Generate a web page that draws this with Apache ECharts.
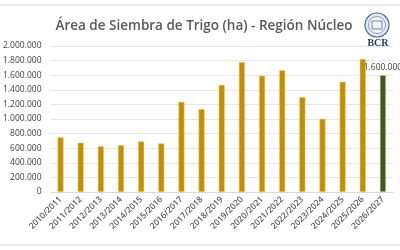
<!DOCTYPE html>
<html>
<head>
<meta charset="utf-8">
<script src="https://cdn.jsdelivr.net/npm/echarts@6/dist/echarts.min.js"></script>
<style>
  html, body { margin: 0; padding: 0; background: #fff; }
  #main { width: 400px; height: 250px; }
</style>
</head>
<body>
<div id="main"></div>
<script>
// campañas
var campaigns = ['2010/2011', '2011/2012', '2012/2013', '2013/2014', '2014/2015', '2015/2016',
  '2016/2017', '2017/2018', '2018/2019', '2019/2020', '2020/2021', '2021/2022', '2022/2023',
  '2023/2024', '2024/2025', '2025/2026', '2026/2027'];
// hectáreas sembradas
var area = [750000, 675000, 627000, 642000, 693000, 666000, 1235000, 1137000, 1467000, 1780000,
  1592000, 1668000, 1300000, 1002000, 1510000, 1822000, 1600000];
var projectedIndex = 16;

function fmt(v) {
  return String(v).replace(/\B(?=(\d{3})+(?!\d))/g, '.');
}

var chart = echarts.init(document.getElementById('main'), null, { renderer: 'canvas' });
chart.setOption({
  animation: false,
  backgroundColor: '#fff',
  title: {
    text: 'Área de Siembra de Trigo (ha) - Región Núcleo',
    left: 199,
    top: 14,
    textAlign: 'center',
    textStyle: { fontFamily: 'Open Sans', fontSize: 13.5, fontWeight: 600, color: '#595959' }
  },
  graphic: [
    { type: 'rect', shape: { x: -2, y: 5, width: 404, height: 240, r: 3 }, style: { fill: 'none', stroke: '#d9d9d9', lineWidth: 1 }, z: -1 },
    // logo BCR
    { type: 'circle', shape: { cx: 377, cy: 25, r: 12 }, style: { fill: '#e4eaf3', stroke: '#4a6a9c', lineWidth: 1.2 } },
    { type: 'circle', shape: { cx: 377, cy: 25, r: 8.5 }, style: { fill: '#f4f6fa', stroke: '#6f88b0', lineWidth: 0.8 } },
    { type: 'rect', shape: { x: 372, y: 21, width: 10, height: 8 }, style: { fill: 'none', stroke: '#4a6a9c', lineWidth: 0.8 } },
    { type: 'text', style: { text: 'BCR', x: 378, y: 43, align: 'center', verticalAlign: 'middle', fontFamily: 'Liberation Serif', fontSize: 10, fontWeight: 'bold', fill: '#1f3c6e' } }
  ],
  grid: { left: 50, right: 7, top: 46, bottom: 58 },
  xAxis: {
    type: 'category',
    data: campaigns,
    axisLine: { lineStyle: { color: '#d9d9d9' } },
    axisTick: { show: false },
    axisLabel: { rotate: 45, interval: 0, fontFamily: 'Open Sans', fontSize: 8.5, fontWeight: 600, color: '#595959', margin: 6 }
  },
  yAxis: {
    type: 'value',
    min: 0,
    max: 2000000,
    interval: 200000,
    axisLine: { show: false },
    axisTick: { show: false },
    splitLine: { lineStyle: { color: '#e6e6e6' } },
    axisLabel: { formatter: fmt, fontFamily: 'Open Sans', fontSize: 8.5, color: '#404040', margin: 9 }
  },
  series: [{
    type: 'bar',
    barWidth: 6,
    data: area.map(function (v, i) {
      if (i === projectedIndex) {
        return {
          value: v,
          itemStyle: { color: '#3a5a26' },
          label: { show: true, position: 'top', formatter: function (p) { return fmt(p.value); },
            fontFamily: 'Open Sans', fontSize: 8.5, color: '#404040', distance: 3 }
        };
      }
      return v;
    }),
    itemStyle: { color: '#c09000', borderColor: '#e8d08a', borderWidth: 0.5 }
  }]
});
</script>
</body>
</html>
